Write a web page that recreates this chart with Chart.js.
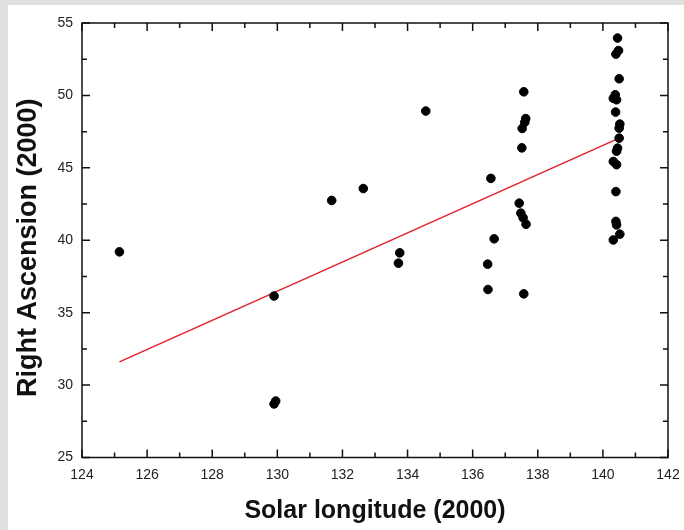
<!DOCTYPE html>
<html>
<head>
<meta charset="utf-8">
<script src="https://cdn.jsdelivr.net/npm/chart.js@4"></script>
<style>
  html, body { margin: 0; padding: 0; background: #ffffff; }
  #wrap { position: relative; width: 684px; height: 530px; }
  .strip { position: absolute; background: #e0e0e0; }
  canvas { position: absolute; left: 0; top: 0; }
</style>
</head>
<body>
<div id="wrap">
  <div class="strip" style="left:0;top:0;width:8px;height:530px"></div>
  <div class="strip" style="left:0;top:0;width:684px;height:5px"></div>
  <canvas id="chart" width="684" height="530"></canvas>
</div>
<script>
// observed meteors
var solarLon = [125.15, 129.9, 129.95, 129.9, 131.67, 132.64, 133.76, 133.72, 134.56,
    136.56, 136.66, 136.46, 136.47,
    137.57, 137.63, 137.6, 137.52, 137.51, 137.43, 137.48, 137.55, 137.64, 137.57,
    140.45, 140.48, 140.4, 140.5, 140.38, 140.32, 140.42, 140.39, 140.52, 140.5,
    140.5, 140.45, 140.42, 140.32, 140.42, 140.4, 140.4, 140.42, 140.52, 140.32];
var rightAsc = [39.2, 36.15, 28.9, 28.7, 42.75, 43.57, 39.13, 38.42, 48.92,
    44.27, 40.1, 38.35, 36.6,
    50.25, 48.4, 48.15, 47.72, 46.38, 42.56, 41.87, 41.55, 41.1, 36.3,
    53.96, 53.1, 52.85, 51.15, 50.05, 49.8, 49.7, 48.85, 48.02, 47.74,
    47.05, 46.36, 46.15, 45.44, 45.22, 43.36, 41.3, 41.06, 40.42, 40.02];

// linear fit
var fitX = [125.15, 140.5];
var fitY = [31.6, 47.05];

var xTicks = [124, 126, 128, 130, 132, 134, 136, 138, 140, 142];
var yTicks = [25, 30, 35, 40, 45, 50, 55];

var pts = [];
for (var i = 0; i < solarLon.length; i++) pts.push({x: solarLon[i], y: rightAsc[i]});
var fitPts = [];
for (var j = 0; j < fitX.length; j++) fitPts.push({x: fitX[j], y: fitY[j]});

// frame + inward ticks on all four sides
var framePlugin = {
    id: 'frame',
    afterDraw: function(chart) {
        var ctx = chart.ctx;
        var a = chart.chartArea;
        var xs = chart.scales.x, ys = chart.scales.y;
        ctx.save();
        ctx.strokeStyle = '#111';
        ctx.lineWidth = 1.5;
        ctx.strokeRect(a.left, a.top, a.right - a.left, a.bottom - a.top);
        ctx.beginPath();
        for (var v = xTicks[0]; v <= xTicks[xTicks.length - 1]; v += 1) {
            var len = (xTicks.indexOf(v) >= 0) ? 8 : 5;
            var px = xs.getPixelForValue(v);
            ctx.moveTo(px, a.bottom); ctx.lineTo(px, a.bottom - len);
            ctx.moveTo(px, a.top); ctx.lineTo(px, a.top + len);
        }
        for (var w = yTicks[0]; w <= yTicks[yTicks.length - 1]; w += 2.5) {
            var l2 = (yTicks.indexOf(w) >= 0) ? 8 : 5;
            var py = ys.getPixelForValue(w);
            ctx.moveTo(a.left, py); ctx.lineTo(a.left + l2, py);
            ctx.moveTo(a.right, py); ctx.lineTo(a.right - l2, py);
        }
        ctx.stroke();
        ctx.restore();
    }
};

new Chart(document.getElementById('chart'), {
    type: 'scatter',
    data: {
        datasets: [
            {
                label: 'meteors',
                data: pts,
                backgroundColor: '#000',
                borderColor: '#000',
                pointRadius: 4.3,
                pointHoverRadius: 4.3
            },
            {
                label: 'fit',
                type: 'line',
                data: fitPts,
                showLine: true,
                borderColor: '#e2202c',
                borderWidth: 1.5,
                pointRadius: 0,
                fill: false
            }
        ]
    },
    options: {
        responsive: false,
        animation: false,
        layout: { padding: { left: 0, right: 16, top: 23, bottom: 0 } },
        plugins: { legend: { display: false }, tooltip: { enabled: false } },
        scales: {
            x: {
                type: 'linear',
                min: 124, max: 142,
                afterBuildTicks: function(s) { s.ticks = xTicks.map(function(v) { return {value: v}; }); },
                afterFit: function(s) { s.height = 72.5; s.paddingRight = 0; s.paddingLeft = 0; },
                grid: { display: false, drawTicks: false },
                border: { display: false },
                ticks: { padding: 9, color: '#222', font: { family: 'Liberation Sans, Arial', size: 14 } },
                title: {
                    display: true,
                    text: 'Solar longitude (2000)',
                    color: '#111',
                    padding: { top: 0, bottom: 4 },
                    font: { family: 'Liberation Sans, Arial', size: 25, weight: 'bold' }
                }
            },
            y: {
                type: 'linear',
                min: 25, max: 55,
                afterBuildTicks: function(s) { s.ticks = yTicks.map(function(v) { return {value: v}; }); },
                afterFit: function(s) { s.width = 82; },
                grid: { display: false, drawTicks: false },
                border: { display: false },
                ticks: { padding: 9, color: '#222', font: { family: 'Liberation Sans, Arial', size: 14 } },
                title: {
                    display: true,
                    text: 'Right Ascension (2000)  ',
                    color: '#111',
                    padding: { top: 12, bottom: 0 },
                    font: { family: 'Liberation Sans, Arial', size: 27, weight: 'bold' }
                }
            }
        }
    },
    plugins: [framePlugin]
});
</script>
</body>
</html>
